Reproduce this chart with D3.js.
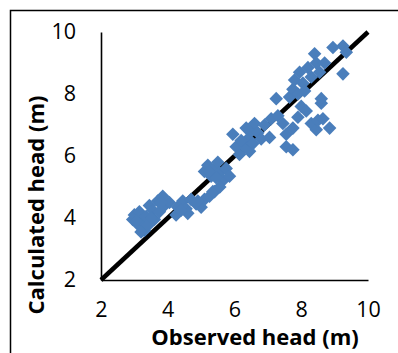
<!DOCTYPE html>
<html>
<head>
<meta charset="utf-8">
<script src="https://cdn.jsdelivr.net/npm/d3@7"></script>
<style>
  body { margin: 0; background: #fff; }
  svg { display: block; }
</style>
</head>
<body>
<div id="chart"></div>
<script>
// observed vs calculated head (m)
const observedHead = [
  2.95, 3.0, 3.1, 3.15, 3.25, 3.3, 3.35, 3.45, 3.4, 3.55, 3.6, 3.7, 3.85, 3.75, 3.9, 4.05, 3.2, 3.05, 3.5, 3.8,
  4.25, 4.3, 4.45, 4.55, 4.7, 4.85, 5.0, 5.1, 5.25, 5.4, 4.6, 4.4, 4.9,
  5.1, 5.2, 5.3, 5.4, 5.5, 5.55, 5.65, 5.75, 5.85, 5.35, 5.56, 5.25, 5.45,
  5.95, 6.05, 6.15, 6.3, 6.4, 6.45, 6.5, 6.6, 6.7, 6.8, 6.9, 7.05, 7.1, 7.3, 7.45, 7.25, 6.35, 6.2, 6.55,
  7.55, 7.75, 7.55, 7.75, 7.9, 8.0, 8.15, 8.3, 8.45, 8.5, 8.6, 8.65, 8.85, 8.6,
  7.65, 7.75, 7.8, 7.95, 8.05, 8.2, 8.3, 8.4, 8.45, 8.55, 8.7, 8.95, 9.25, 9.35, 9.25, 8.1, 7.9
];
const calculatedHead = [
  3.95, 4.1, 3.8, 4.2, 3.9, 3.6, 4.05, 4.4, 3.75, 4.25, 3.95, 4.55, 4.7, 4.2, 4.4, 4.5, 3.55, 3.9, 4.0, 4.5,
  4.1, 4.35, 4.55, 4.3, 4.6, 4.45, 4.35, 4.6, 4.7, 4.85, 4.15, 4.25, 4.55,
  5.5, 5.7, 5.35, 5.6, 5.8, 5.45, 5.2, 5.6, 5.35, 4.85, 5.0, 5.5, 5.3,
  6.7, 6.3, 6.05, 6.3, 6.55, 6.15, 6.8, 7.05, 6.75, 6.55, 7.0, 6.6, 7.2, 7.3, 7.05, 7.85, 6.9, 6.5, 6.4,
  6.3, 6.2, 6.7, 6.9, 7.25, 7.6, 7.45, 7.05, 6.85, 7.15, 7.7, 7.2, 6.9, 7.85,
  7.9, 8.15, 8.45, 8.7, 8.35, 8.85, 8.55, 9.3, 9.0, 8.7, 9.0, 9.5, 9.55, 9.35, 8.65, 8.1, 8.0
];
const ticks = [2, 4, 6, 8, 10];
const fitLine = [[2, 2], [10, 10]];

const width = 398, height = 353;
const margin = { top: 32, right: 30, bottom: 73, left: 101 };

const svg = d3.select('#chart').append('svg')
  .attr('width', width)
  .attr('height', height);

// outer frame (runs off the right and bottom edge)
svg.append('rect')
  .attr('x', 10.5).attr('y', 10.5)
  .attr('width', 400).attr('height', 400)
  .attr('fill', 'none')
  .attr('stroke', '#000')
  .attr('stroke-width', 1.5);

const x = d3.scaleLinear().domain([2, 10]).range([margin.left, width - margin.right]);
const y = d3.scaleLinear().domain([2, 10]).range([height - margin.bottom, margin.top]);

const fontFamily = '"Open Sans", "Liberation Sans", sans-serif';

// axes lines + labels
const xAxis = svg.append('g')
  .attr('transform', `translate(0,${y(2)})`)
  .call(d3.axisBottom(x).tickValues(ticks).tickSize(0).tickPadding(22));
const yAxis = svg.append('g')
  .attr('transform', `translate(${x(2)},0)`)
  .call(d3.axisLeft(y).tickValues(ticks).tickSize(0).tickPadding(25));

[xAxis, yAxis].forEach(g => {
  g.select('.domain').attr('stroke', '#000').attr('stroke-width', 1.6);
  g.selectAll('text')
    .attr('fill', '#000')
    .style('font-family', fontFamily)
    .style('font-size', '21.5px');
});

// 1:1 line
svg.append('path')
  .datum(fitLine)
  .attr('d', d3.line().x(d => x(d[0])).y(d => y(d[1])))
  .attr('stroke', '#000')
  .attr('stroke-width', 4.5)
  .attr('fill', 'none');

// diamond markers
const diamond = d3.symbol().type(d3.symbolSquare).size(92);
svg.append('g')
  .selectAll('path')
  .data(observedHead.map((o, i) => [o, calculatedHead[i]]))
  .join('path')
  .attr('d', diamond)
  .attr('transform', d => `translate(${x(d[0])},${y(d[1])}) rotate(45)`)
  .attr('fill', '#4a7ebb');

// axis titles
svg.append('text')
  .attr('x', 255)
  .attr('y', 345)
  .attr('text-anchor', 'middle')
  .style('font-family', fontFamily)
  .style('font-weight', 'bold')
  .style('font-size', '22px')
  .text('Observed head (m)');

svg.append('text')
  .attr('transform', 'translate(44,205) rotate(-90)')
  .attr('text-anchor', 'middle')
  .style('font-family', fontFamily)
  .style('font-weight', 'bold')
  .style('font-size', '22px')
  .text('Calculated head (m)');
</script>
</body>
</html>
